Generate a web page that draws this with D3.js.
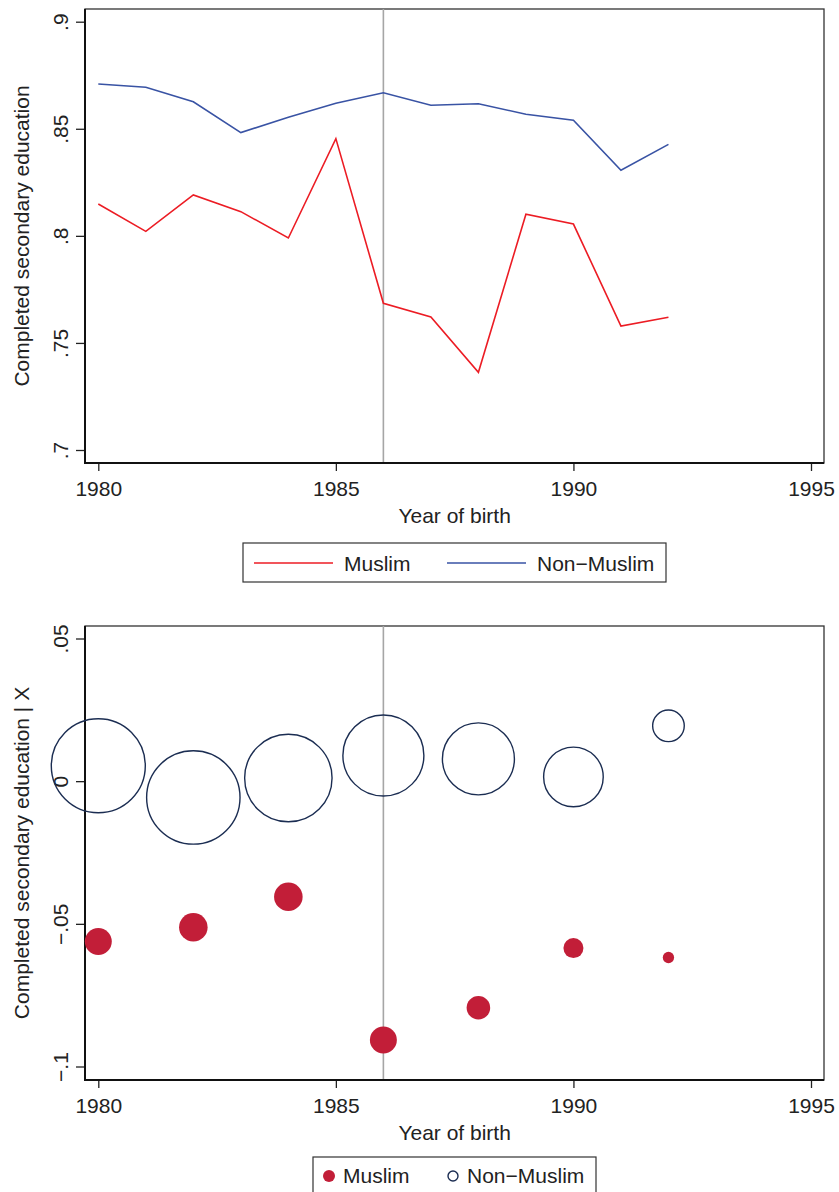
<!DOCTYPE html>
<html>
<head>
<meta charset="utf-8">
<script src="https://cdn.jsdelivr.net/npm/d3@7"></script>
<style>
  body { margin: 0; background: #fff; }
  svg { display: block; font-family: "Liberation Sans", Arial, Helvetica, sans-serif; }
  .axis text { font-size: 21px; fill: #222; }
  .axis path { display: none; }
  .axis line { stroke: #222; stroke-width: 1.3; }
  .title { font-size: 21px; fill: #222; }
</style>
</head>
<body>
<div id="chart"></div>
<script>
// Data

// top panel: raw shares by year of birth
const years = [1980, 1981, 1982, 1983, 1984, 1985, 1986, 1987, 1988, 1989, 1990, 1991, 1992];
const muslimShare = [0.8149, 0.8021, 0.8191, 0.8113, 0.7990, 0.8454, 0.7685, 0.7621, 0.7363, 0.8101, 0.8055, 0.7579, 0.7620];
const nonMuslimShare = [0.8709, 0.8694, 0.8626, 0.8482, 0.8554, 0.8619, 0.8668, 0.8610, 0.8617, 0.8568, 0.8540, 0.8306, 0.8427];

// bottom panel: residualised shares, two-year bins, bubble weights
const binYears = [1980, 1982, 1984, 1986, 1988, 1990, 1992];
const muslimResid = [-0.0562, -0.0512, -0.0405, -0.0907, -0.0794, -0.0585, -0.0618];
const nonMuslimResid = [0.0054, -0.0057, 0.0011, 0.0090, 0.0078, 0.0015, 0.0194];
const muslimWeight = [182, 204, 204, 182, 139, 100, 32];
const nonMuslimWeight = [2209, 2181, 1910, 1640, 1296, 888, 250];

const xTicks = [1980, 1985, 1990, 1995];
const yTicksTop = [0.7, 0.75, 0.8, 0.85, 0.9];
const yTicksBottom = [-0.1, -0.05, 0, 0.05];
const cutoffYear = 1986;
const legendLabels = ["Muslim", "Non\u2212Muslim"];

const svgWidth = 839;
const svgHeight = 1192;

const svg = d3.select("#chart")
  .append("svg")
  .attr("width", svgWidth)
  .attr("height", svgHeight);

// shared horizontal scale
const x = d3.scaleLinear().domain([1980, 1995]).range([98.3, 811]);

// Stata-like number format: drop the leading zero, real minus sign
function stataFmt(v) {
  if (v === 0) return "0";
  let s = String(+v.toFixed(3)).replace("0.", ".");
  return s.replace("-", "\u2212");
}

// draws frame, axes and titles of one panel, returns the y scale
function drawPanel(box, yDomain, yRange, yTicks, yTitle) {
  const g = svg.append("g");

  const y = d3.scaleLinear().domain(yDomain).range(yRange);

  // plot region outline
  g.append("rect")
    .attr("x", box.left)
    .attr("y", box.top)
    .attr("width", box.right - box.left)
    .attr("height", box.bottom - box.top)
    .attr("fill", "none")
    .attr("stroke", "#333")
    .attr("stroke-width", 1.3);

  // x axis
  const xAxis = g.append("g")
    .attr("class", "axis")
    .attr("transform", `translate(0, ${box.bottom})`)
    .call(d3.axisBottom(x).tickValues(xTicks).tickSize(8).tickPadding(10).tickFormat(d3.format("d")));
  xAxis.selectAll("text").attr("dy", "0.71em");

  // y axis
  const yAxis = g.append("g")
    .attr("class", "axis")
    .attr("transform", `translate(${box.left}, 0)`)
    .call(d3.axisLeft(y).tickValues(yTicks).tickSize(9).tickFormat(stataFmt));
  yAxis.selectAll("text")
    .attr("x", 0)
    .attr("dy", 0)
    .attr("text-anchor", "middle")
    .attr("transform", "translate(-17, 0) rotate(-90)");

  // heavier axis lines
  g.append("line")
    .attr("x1", box.left).attr("x2", box.left)
    .attr("y1", box.top).attr("y2", box.bottom + 1)
    .attr("stroke", "#111").attr("stroke-width", 2);
  g.append("line")
    .attr("x1", box.left - 1).attr("x2", box.right)
    .attr("y1", box.bottom).attr("y2", box.bottom)
    .attr("stroke", "#111").attr("stroke-width", 2);

  // cutoff line
  g.append("line")
    .attr("x1", x(cutoffYear)).attr("x2", x(cutoffYear))
    .attr("y1", box.top).attr("y2", box.bottom - 1)
    .attr("stroke", "#a6a6a6").attr("stroke-width", 1.6);

  // titles
  g.append("text")
    .attr("class", "title")
    .attr("x", (x(1980) + x(1995)) / 2)
    .attr("y", box.bottom + 60)
    .attr("text-anchor", "middle")
    .text("Year of birth");

  g.append("text")
    .attr("class", "title")
    .attr("transform", `translate(29, ${(box.top + box.bottom) / 2}) rotate(-90)`)
    .attr("text-anchor", "middle")
    .text(yTitle);

  return { g, y };
}

// ---- top panel ----
const topPanel = drawPanel({ left: 85, right: 824, top: 9, bottom: 463 },
  [0.7, 0.9], [450, 21.7], yTicksTop, "Completed secondary education");

const lineTop = (vals) => d3.line()
  .x((d, i) => x(years[i]))
  .y((d) => topPanel.y(d))(vals);

topPanel.g.append("path")
  .attr("d", lineTop(nonMuslimShare))
  .attr("fill", "none")
  .attr("stroke", "#3953a4")
  .attr("stroke-width", 1.6);

topPanel.g.append("path")
  .attr("d", lineTop(muslimShare))
  .attr("fill", "none")
  .attr("stroke", "#ec1c24")
  .attr("stroke-width", 1.6);

// top legend
const legTop = svg.append("g");
legTop.append("rect")
  .attr("x", 243).attr("y", 543).attr("width", 423).attr("height", 39)
  .attr("fill", "#fff").attr("stroke", "#333").attr("stroke-width", 1.2);
[["#ec1c24", 254, 344], ["#3953a4", 447, 537]].forEach((s, i) => {
  legTop.append("line")
    .attr("x1", s[1]).attr("x2", s[1] + 79)
    .attr("y1", 563).attr("y2", 563)
    .attr("stroke", s[0]).attr("stroke-width", 1.6);
  legTop.append("text")
    .attr("class", "title")
    .attr("x", s[2]).attr("y", 570.5)
    .text(legendLabels[i]);
});

// ---- bottom panel ----
const bottomPanel = drawPanel({ left: 85, right: 824, top: 626, bottom: 1080 },
  [-0.1, 0.05], [1066.5, 638.5], yTicksBottom, "Completed secondary education | X");

const r = d3.scaleSqrt()
  .domain([0, d3.max(nonMuslimWeight)])
  .range([0, 47]);

bottomPanel.g.selectAll(".nm")
  .data(binYears)
  .enter()
  .append("circle")
  .attr("class", "nm")
  .attr("cx", d => x(d))
  .attr("cy", (d, i) => bottomPanel.y(nonMuslimResid[i]))
  .attr("r", (d, i) => r(nonMuslimWeight[i]))
  .attr("fill", "none")
  .attr("stroke", "#1b2d52")
  .attr("stroke-width", 1.4);

bottomPanel.g.selectAll(".mu")
  .data(binYears)
  .enter()
  .append("circle")
  .attr("class", "mu")
  .attr("cx", d => x(d))
  .attr("cy", (d, i) => bottomPanel.y(muslimResid[i]))
  .attr("r", (d, i) => r(muslimWeight[i]))
  .attr("fill", "#c21e38");

// bottom legend
const legBot = svg.append("g");
legBot.append("rect")
  .attr("x", 313).attr("y", 1157).attr("width", 283).attr("height", 39)
  .attr("fill", "#fff").attr("stroke", "#333").attr("stroke-width", 1.2);
legBot.append("circle")
  .attr("cx", 329).attr("cy", 1176).attr("r", 6)
  .attr("fill", "#c21e38");
legBot.append("text")
  .attr("class", "title")
  .attr("x", 343).attr("y", 1183)
  .text(legendLabels[0]);
legBot.append("circle")
  .attr("cx", 453).attr("cy", 1176).attr("r", 5)
  .attr("fill", "none").attr("stroke", "#1b2d52").attr("stroke-width", 1.4);
legBot.append("text")
  .attr("class", "title")
  .attr("x", 467).attr("y", 1183)
  .text(legendLabels[1]);
</script>
</body>
</html>
